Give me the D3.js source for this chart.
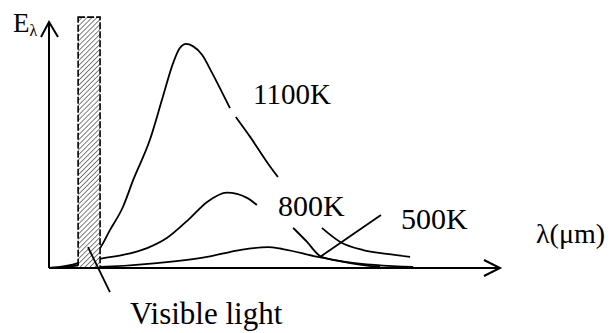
<!DOCTYPE html>
<html>
<head>
<meta charset="utf-8">
<script src="https://cdn.jsdelivr.net/npm/d3@7/dist/d3.min.js"></script>
<style>
  body { margin: 0; background: #fff; }
</style>
</head>
<body>
<div id="chart"></div>
<script>
// curve samples (null = gap where a label sits)
var k1100X = [0, 6.5, 11.4, 13.6, 16.5, 18.8, 22.5, 25.4, 27.7, 29.2, 30.6, 32.1, 34.2, 36.4, 38.6, 40.4, null, 41.7, 44.9, 49.1, 51.1, null, 60.9, 65.0, 70.1, 75.4, 80.6];
var k1100Y = [0, 2.0, 8.1, 15.4, 24.8, 35.8, 52.0, 69.5, 83.3, 89.4, 91.1, 90.2, 86.6, 79.3, 71.5, 65.0, null, 61.4, 53.3, 41.9, 37.0, null, 16.3, 10.6, 7.3, 5.7, 4.5];

var k800X = [0, 6.5, 11.4, 16.5, 21.9, 26.3, 31.5, 35.3, 39.7, 44.2, 46.4, null, 54.5, 57.6, 60.5, 66.1, 73.9];
var k800Y = [0, 1.2, 3.7, 5.3, 8.1, 12.2, 20.3, 26.8, 30.6, 28.5, 25.6, null, 16.3, 10.6, 4.9, 2.4, 0.4];

var k500X = [0, 11.4, 24.1, 35.3, 42.6, 48.9, 52.2, 60.0, 66.5, 81.3];
var k500Y = [0, 0.4, 2.0, 4.5, 7.3, 8.5, 7.7, 4.5, 2.4, 0.4];

var visibleBand = [6.5, 11.4];
var curveLabels = ["1100K", "800K", "500K"];
var visibleLabel = "Visible light";
var xLabel = "λ(μm)";

var width = 615, height = 333;
var serif = "'Liberation Serif', 'Times New Roman', serif";

var svg = d3.select("#chart")
  .append("svg")
  .attr("width", width)
  .attr("height", height);

var x = d3.scaleLinear().domain([0, 100]).range([49, 497]);
var y = d3.scaleLinear().domain([0, 100]).range([268, 22]);

function toPoints(xs, ys) {
  return xs.map(function (d, i) { return d === null ? null : [d, ys[i]]; });
}

var line = d3.line()
  .defined(function (d) { return d !== null; })
  .x(function (d) { return x(d[0]); })
  .y(function (d) { return y(d[1]); })
  .curve(d3.curveMonotoneX);

var series = [toPoints(k1100X, k1100Y), toPoints(k800X, k800Y), toPoints(k500X, k500Y)];

svg.selectAll(".curve")
  .data(series)
  .enter()
  .append("path")
  .attr("class", "curve")
  .attr("d", line)
  .attr("fill", "none")
  .attr("stroke", "#000")
  .attr("stroke-width", 1.8);

// hatched visible band
var defs = svg.append("defs");
defs.append("pattern")
  .attr("id", "hatch")
  .attr("patternUnits", "userSpaceOnUse")
  .attr("width", 3.5)
  .attr("height", 3.5)
  .attr("patternTransform", "rotate(45)")
  .append("line")
  .attr("x1", 0).attr("y1", 0)
  .attr("x2", 0).attr("y2", 3.5)
  .attr("stroke", "#555")
  .attr("stroke-width", 1.5);

var band = svg.append("g");
band.append("rect")
  .attr("x", x(visibleBand[0]))
  .attr("y", y(102))
  .attr("width", x(visibleBand[1]) - x(visibleBand[0]))
  .attr("height", y(0) - y(102))
  .attr("fill", "#fff");

band.append("rect")
  .attr("x", x(visibleBand[0]))
  .attr("y", y(102))
  .attr("width", x(visibleBand[1]) - x(visibleBand[0]))
  .attr("height", y(0) - y(102))
  .attr("fill", "url(#hatch)")
  .attr("stroke", "#000")
  .attr("stroke-width", 1.6)
  .attr("stroke-dasharray", "7,2");

// axes with open arrow heads
var x0 = x(0), y0 = y(0), xEnd = x(100) + 3, yEnd = y(100);

svg.append("path")
  .attr("d", "M" + x0 + "," + y0 + "H" + xEnd +
    "M" + (xEnd - 16) + "," + (y0 - 8) + "L" + xEnd + "," + y0 + "L" + (xEnd - 16) + "," + (y0 + 8))
  .attr("fill", "none")
  .attr("stroke", "#000")
  .attr("stroke-width", 2);

svg.append("path")
  .attr("d", "M" + x0 + "," + y0 + "V" + yEnd +
    "M" + (x0 - 8) + "," + (yEnd + 15) + "L" + x0 + "," + yEnd + "L" + (x0 + 9) + "," + (yEnd + 15))
  .attr("fill", "none")
  .attr("stroke", "#000")
  .attr("stroke-width", 2);

// pointer lines
var pointers = [
  [[8.7, 8.5], [13.6, -9.8]],
  [[60.5, 4.5], [74.1, 21.5]]
];
svg.selectAll(".pointer")
  .data(pointers)
  .enter()
  .append("path")
  .attr("class", "pointer")
  .attr("d", d3.line().x(function (d) { return x(d[0]); }).y(function (d) { return y(d[1]); }))
  .attr("stroke", "#000")
  .attr("stroke-width", 1.8)
  .attr("fill", "none");

// labels
var labelPos = [[253, 104, 29], [278, 216, 30], [401, 229, 30]];
svg.selectAll(".clabel")
  .data(curveLabels)
  .enter()
  .append("text")
  .attr("class", "clabel")
  .attr("x", function (d, i) { return labelPos[i][0]; })
  .attr("y", function (d, i) { return labelPos[i][1]; })
  .style("font-family", serif)
  .style("font-size", function (d, i) { return labelPos[i][2] + "px"; })
  .text(function (d) { return d; });

svg.append("text")
  .attr("x", 130)
  .attr("y", 324)
  .style("font-family", serif)
  .style("font-size", "31px")
  .text(visibleLabel);

svg.append("text")
  .attr("x", 536)
  .attr("y", 243)
  .style("font-family", serif)
  .style("font-size", "28px")
  .text(xLabel);

var yTitle = svg.append("text")
  .attr("x", 13)
  .attr("y", 32)
  .style("font-family", serif)
  .style("font-size", "27px");
yTitle.append("tspan").text("E");
yTitle.append("tspan")
  .attr("dy", 4)
  .style("font-size", "16px")
  .text("λ");
</script>
</body>
</html>
